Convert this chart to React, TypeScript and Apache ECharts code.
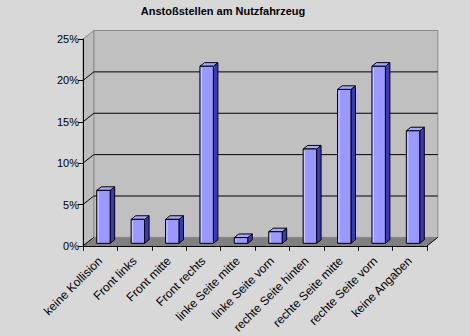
import React, { useEffect, useRef } from "react";
import * as echarts from "echarts";

const title = "Anstoßstellen am Nutzfahrzeug";
const categories = [
  "keine Kollision",
  "Front links",
  "Front mitte",
  "Front rechts",
  "linke Seite mitte",
  "linke Seite vorn",
  "rechte Seite hinten",
  "rechte Seite mitte",
  "rechte Seite vorn",
  "keine Angaben",
];
const values = [6.4, 2.9, 2.9, 21.4, 0.7, 1.4, 11.4, 18.6, 21.4, 13.6];
const gridValues = [5, 10, 15, 20];
const yMax = 25;
const yInterval = 5;

const DX = 10.8;
const DY = -8.5;
const FONT = "'Liberation Sans', Arial, sans-serif";

export default function App() {
  const ref = useRef<HTMLDivElement>(null);
  useEffect(() => {
    document.body.style.margin = "0";
    const chart = echarts.init(ref.current!, null, { renderer: "svg" });

    const frameRender = (params: any, api: any) => {
      const cs = params.coordSys;
      const x = cs.x, y = cs.y, w = cs.width, h = cs.height;
      const children: any[] = [];
      children.push({
        type: "rect",
        shape: { x: x + DX, y: y + DY, width: w, height: h },
        style: { fill: "#c0c0c0", stroke: "#8a8a8a", lineWidth: 1 },
      });
      children.push({
        type: "polygon",
        shape: { points: [[x, y], [x + DX, y + DY], [x + DX, y + h + DY], [x, y + h]] },
        style: { fill: "#bdbdbd", stroke: "#8a8a8a", lineWidth: 1 },
      });
      children.push({
        type: "polygon",
        shape: { points: [[x, y + h], [x + DX, y + h + DY], [x + w + DX, y + h + DY], [x + w, y + h]] },
        style: { fill: "#808080", stroke: "none" },
      });
      children.push({
        type: "line",
        shape: { x1: x, y1: y + h, x2: x + DX, y2: y + h + DY },
        style: { stroke: "#000", lineWidth: 1 },
      });
      children.push({
        type: "line",
        shape: { x1: x + w, y1: y + h, x2: x + w + DX, y2: y + h + DY },
        style: { stroke: "#000", lineWidth: 1 },
      });
      gridValues.forEach((v) => {
        const py = api.coord([0, v])[1];
        children.push({
          type: "polyline",
          shape: { points: [[x, py], [x + DX, py + DY], [x + w + DX, py + DY]] },
          style: { stroke: "#000", lineWidth: 1, fill: "none" },
        });
      });
      return { type: "group", children };
    };

    const barRender = (params: any, api: any) => {
      const idx = api.value(0);
      const v = api.value(1);
      const base = api.coord([idx, 0]);
      const top = api.coord([idx, v]);
      const band = api.size([1, 0])[0];
      const bw = band * 0.39;
      const ox = DX * 0.3, oy = DY * 0.3;
      const bdx = DX * 0.42, bdy = DY * 0.42;
      const fx = base[0] - bw / 2 + ox;
      const fy0 = base[1] + oy;
      const fy1 = top[1] + oy;
      return {
        type: "group",
        children: [
          {
            type: "polygon",
            shape: { points: [[fx + bw, fy1], [fx + bw + bdx, fy1 + bdy], [fx + bw + bdx, fy0 + bdy], [fx + bw, fy0]] },
            style: { fill: "#3a3ab8", stroke: "#000", lineWidth: 1 },
          },
          {
            type: "polygon",
            shape: { points: [[fx, fy1], [fx + bdx, fy1 + bdy], [fx + bw + bdx, fy1 + bdy], [fx + bw, fy1]] },
            style: { fill: "#a8a8ff", stroke: "#000", lineWidth: 1 },
          },
          {
            type: "rect",
            shape: { x: fx, y: fy1, width: bw, height: fy0 - fy1 },
            style: { fill: "#9999ff", stroke: "#000", lineWidth: 1 },
          },
          {
            type: "line",
            shape: { x1: fx + 1.5, y1: fy1 + 1.5, x2: fx + 1.5, y2: fy0 - 1 },
            style: { stroke: "#d0d0ff", lineWidth: 1 },
          },
        ],
      };
    };

    chart.setOption({
      animation: false,
      backgroundColor: "#d8d8d8",
      title: {
        text: title,
        left: 218,
        textAlign: "center",
        top: 0,
        textStyle: { fontFamily: FONT, fontSize: 11, fontWeight: "bold", color: "#000" },
      },
      grid: { left: 83, top: 39, width: 344, height: 207.7, containLabel: false },
      xAxis: {
        type: "category",
        data: categories,
        z: 10,
        axisLine: { lineStyle: { color: "#000", width: 1 } },
        axisTick: { show: true, length: 5, lineStyle: { color: "#000" } },
        axisLabel: {
          interval: 0,
          rotate: 45,
          margin: 13,
          fontFamily: FONT,
          fontSize: 12,
          color: "#000",
        },
        splitLine: { show: false },
      },
      yAxis: {
        type: "value",
        min: 0,
        max: yMax,
        interval: yInterval,
        z: 10,
        axisLine: { show: true, lineStyle: { color: "#000", width: 1 } },
        axisTick: { show: true, length: 5, lineStyle: { color: "#000" } },
        axisLabel: {
          formatter: "{value}%",
          margin: 4,
          fontFamily: FONT,
          fontSize: 11,
          color: "#000",
        },
        splitLine: { show: false },
      },
      series: [
        {
          type: "custom",
          z: 1,
          silent: true,
          renderItem: frameRender,
          data: [[0, 0]],
          encode: { x: 0, y: 1 },
        },
        {
          type: "custom",
          z: 3,
          renderItem: barRender,
          data: values.map((v, i) => [i, v]),
          encode: { x: 0, y: 1 },
        },
      ],
    });
    return () => chart.dispose();
  }, []);
  return <div ref={ref} style={{ width: 470, height: 336 }} />;
}
